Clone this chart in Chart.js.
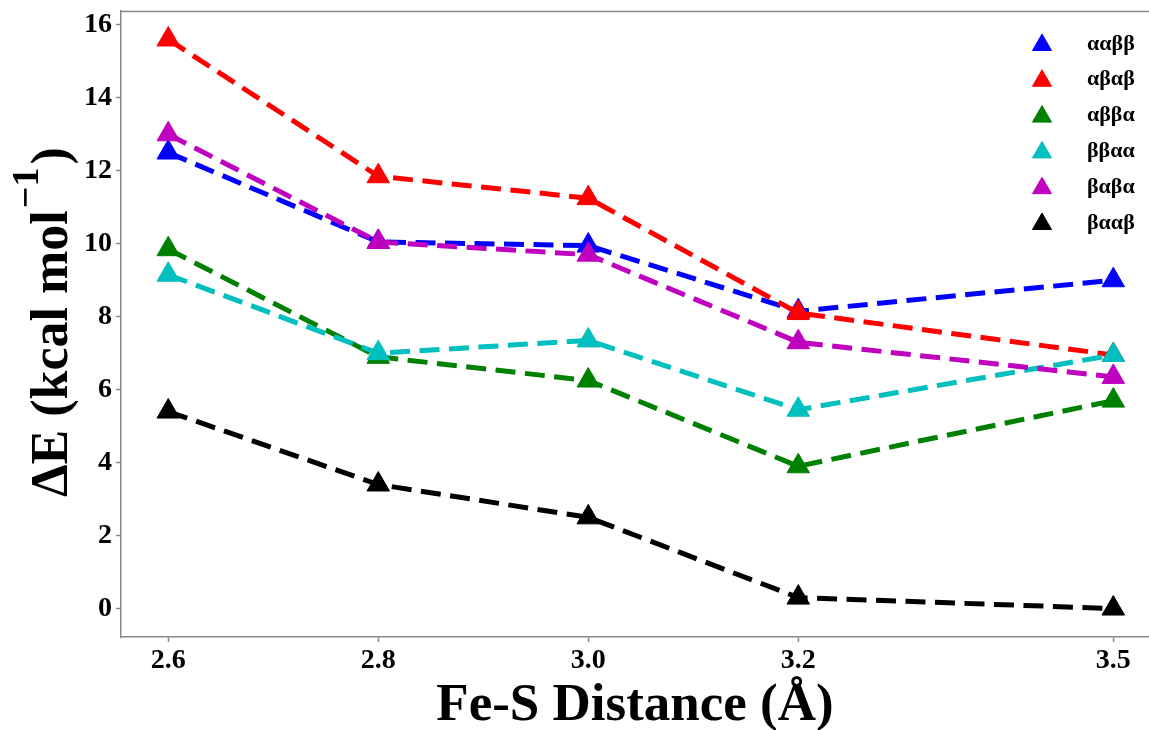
<!DOCTYPE html>
<html>
<head>
<meta charset="utf-8">
<title>Fe-S Distance vs ΔE</title>
<script src="https://cdn.jsdelivr.net/npm/chart.js@4.4.1/dist/chart.umd.min.js"></script>
<style>
    html, body { margin: 0; padding: 0; background: #ffffff; overflow: hidden; }
    canvas { display: block; }
</style>
</head>
<body>
<canvas id="energyChart" width="1149" height="730"></canvas>
<script>
/* ===============================
   DATA
================================ */
const distances = [2.6, 2.8, 3.0, 3.2, 3.5];

const seriesNames = ["ααββ", "αβαβ", "αββα", "ββαα", "βαβα", "βααβ"];
const seriesColors = ["#0000ff", "#ff0000", "#008000", "#00bfbf", "#bf00bf", "#000000"];

const aabb = [12.5, 10.05, 9.95, 8.15, 9.0];
const abab = [15.6, 11.85, 11.25, 8.1, 6.95];
const abba = [9.85, 6.9, 6.25, 3.9, 5.7];
const bbaa = [9.15, 7.0, 7.35, 5.45, 6.95];
const baba = [13.0, 10.05, 9.7, 7.3, 6.35];
const baab = [5.4, 3.4, 2.5, 0.3, 0.0];

const seriesValues = [aabb, abab, abba, bbaa, baba, baab];

const xTicks = [2.6, 2.8, 3.0, 3.2, 3.5];
const yTicks = [0, 2, 4, 6, 8, 10, 12, 14, 16];

/* ===============================
   STYLE
================================ */
const SERIF = '"Liberation Serif", "Times New Roman", serif';
const SPINE = "#888888";

/* ===============================
   EXTRA DRAWING: frame top, y title, legend
================================ */
const decorPlugin = {
    id: "decor",
    afterDraw(chart) {
        const ctx = chart.ctx;
        const area = chart.chartArea;

        // top spine
        ctx.save();
        ctx.strokeStyle = SPINE;
        ctx.lineWidth = 1.5;
        ctx.beginPath();
        ctx.moveTo(area.left, area.top + 0.5);
        ctx.lineTo(area.right, area.top + 0.5);
        ctx.stroke();
        ctx.restore();

        // y axis title with superscript
        ctx.save();
        ctx.fillStyle = "#000000";
        ctx.translate(67, 497);
        ctx.rotate(-Math.PI / 2);
        ctx.textBaseline = "alphabetic";
        ctx.textAlign = "left";
        ctx.font = "bold 52px " + SERIF;
        const main = "ΔE (kcal mol";
        ctx.fillText(main, 0, 0);
        let w = ctx.measureText(main).width + 2;
        ctx.font = "bold 38px " + SERIF;
        ctx.fillText("−1", w, -29);
        w += ctx.measureText("−1").width + 3;
        ctx.font = "bold 52px " + SERIF;
        ctx.fillText(")", w, 0);
        ctx.restore();

        // legend, markers only
        ctx.save();
        ctx.font = "bold 22px " + SERIF;
        ctx.textBaseline = "middle";
        ctx.textAlign = "left";
        chart.data.datasets.forEach((ds, i) => {
            const y = 43 + i * 35.8;
            ctx.fillStyle = ds.pointBackgroundColor;
            ctx.strokeStyle = ds.pointBorderColor;
            ctx.lineWidth = 1;
            Chart.helpers.drawPoint(ctx, { pointStyle: "triangle", radius: 11, rotation: 0, borderWidth: 1 }, 1042, y + 2);
            ctx.fillStyle = "#000000";
            ctx.fillText(ds.label, 1087, y + 1);
        });
        ctx.restore();
    }
};

/* ===============================
   CHART
================================ */
const datasets = seriesNames.map((name, i) => ({
    label: name,
    data: distances.map((d, j) => ({ x: d, y: seriesValues[i][j] })),
    borderColor: seriesColors[i],
    backgroundColor: seriesColors[i],
    pointBackgroundColor: seriesColors[i],
    pointBorderColor: seriesColors[i],
    borderWidth: 5,
    borderDash: [20, 9.5],
    borderCapStyle: "butt",
    pointStyle: "triangle",
    pointRadius: 13,
    pointBorderWidth: 1,
    tension: 0,
    fill: false,
    order: seriesNames.length - 1 - i
}));

new Chart(document.getElementById("energyChart"), {
    type: "line",
    data: { datasets: datasets },
    plugins: [decorPlugin],
    options: {
        responsive: false,
        animation: false,
        devicePixelRatio: 1,
        layout: {
            autoPadding: false,
            padding: { top: 11, left: 0, right: 0, bottom: 0 }
        },
        plugins: {
            legend: { display: false },
            tooltip: { enabled: false }
        },
        scales: {
            x: {
                type: "linear",
                min: 2.555,
                max: 3.534,
                afterBuildTicks: scale => { scale.ticks = xTicks.map(v => ({ value: v })); },
                afterFit: scale => {
                    scale.height = 93;
                    scale.paddingLeft = 0;
                    scale.paddingRight = 0;
                },
                grid: {
                    drawOnChartArea: false,
                    color: SPINE,
                    tickLength: 5,
                    tickWidth: 1.5
                },
                border: { color: SPINE, width: 1.5 },
                ticks: {
                    color: "#000000",
                    padding: 5,
                    maxRotation: 0,
                    autoSkip: false,
                    font: { family: SERIF, size: 28, weight: "bold", lineHeight: 1 },
                    callback: v => Number(v).toFixed(1)
                },
                title: {
                    display: true,
                    text: "Fe-S Distance (Å)",
                    color: "#000000",
                    padding: 0,
                    font: { family: SERIF, size: 53, weight: "bold", lineHeight: 0.9 }
                }
            },
            y: {
                min: -0.78,
                max: 16.38,
                afterBuildTicks: scale => { scale.ticks = yTicks.map(v => ({ value: v })); },
                afterFit: scale => {
                    scale.width = 121;
                    scale.paddingTop = 0;
                    scale.paddingBottom = 0;
                },
                grid: {
                    drawOnChartArea: false,
                    color: SPINE,
                    tickLength: 5,
                    tickWidth: 1.5
                },
                border: { color: SPINE, width: 1.5 },
                ticks: {
                    color: "#000000",
                    padding: 4,
                    autoSkip: false,
                    font: { family: SERIF, size: 28, weight: "bold", lineHeight: 1 },
                    callback: v => String(v)
                }
            }
        }
    }
});
</script>
</body>
</html>
